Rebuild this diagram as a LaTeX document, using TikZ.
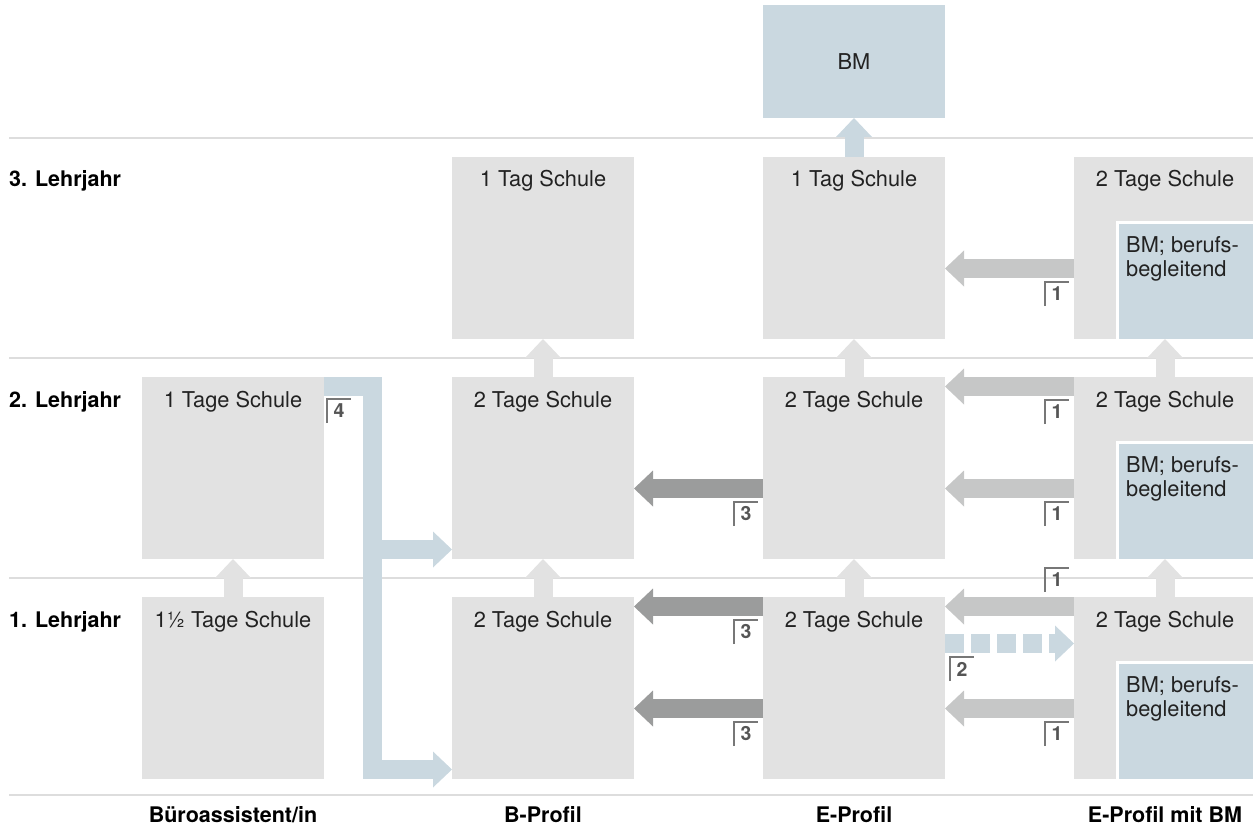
\documentclass[tikz,border=0pt]{standalone}
\usepackage{fontspec}
\setmainfont{TeX Gyre Heros}
\usetikzlibrary{arrows.meta,positioning}
\definecolor{feldgrau}{HTML}{E2E2E2}
\definecolor{bmblau}{HTML}{CAD8E0}
\definecolor{pfeildunkel}{HTML}{9B9C9C}
\definecolor{pfeilhell}{HTML}{C6C7C7}
\definecolor{liniengrau}{HTML}{DDDDDD}
\definecolor{nummergrau}{HTML}{555555}
\definecolor{schrift}{HTML}{222222}
\tikzset{
  feld/.style={fill=feldgrau,minimum width=182pt,minimum height=182pt,inner sep=0pt,outer sep=0pt,
    anchor=north west,label={[anchor=base,yshift=-30pt,inner sep=0pt,text=schrift,
    font=\fontsize{21.8}{25}\selectfont]north:#1}},
  begleitend/.style={fill=bmblau,draw=white,line width=3pt,minimum width=142.5pt,minimum height=118pt,
    inner sep=0pt,outer sep=0pt,anchor=south west,label={[anchor=north west,xshift=8.5pt,yshift=-14pt,
    inner sep=0pt,align=left,text=schrift,font=\fontsize{21.8}{23.5}\selectfont]north west:BM; berufs-\\begleitend}},
  pfeil/.style={line width=19pt,-{Triangle[width=36pt,length=19pt,line width=0pt]}},
  hoch/.style={pfeil,draw=feldgrau},
  zurueck/.style={pfeil,draw=pfeildunkel},
  wechsel/.style={pfeil,draw=pfeilhell},
  blau/.style={pfeil,draw=bmblau},
  nummer/.style={minimum width=24pt,minimum height=24pt,inner sep=0pt,outer sep=0pt,text=nummergrau,
    font=\fontsize{19.5}{19.5}\selectfont\bfseries,
    append after command={\pgfextra{\draw[nummergrau!80,line width=1.5pt]
      (\tikzlastnode.south west) |- (\tikzlastnode.north east);}}},
  jahr/.style={anchor=base west,inner sep=0pt,font=\fontsize{21.5}{24}\selectfont\bfseries},
  profil/.style={anchor=base,inner sep=0pt,font=\fontsize{21.5}{24}\selectfont\bfseries}
}
\begin{document}
\begin{tikzpicture}[x=1pt,y=-1pt]
\useasboundingbox (0,0) rectangle (1253,829);
\foreach \y in {138,358,578,795} \draw[liniengrau,line width=1.5pt] (9,\y) -- (1253,\y);
% Felder
\node[feld={1\textonehalf{} Tage Schule}] (a1) at (142,597) {};
\node[feld={1 Tage Schule}] (a2) at (142,377) {};
\node[feld={2 Tage Schule}] (b1) at (452,597) {};
\node[feld={2 Tage Schule}] (b2) at (452,377) {};
\node[feld={1 Tag Schule}] (b3) at (452,157) {};
\node[feld={2 Tage Schule}] (e1) at (763,597) {};
\node[feld={2 Tage Schule}] (e2) at (763,377) {};
\node[feld={1 Tag Schule}] (e3) at (763,157) {};
\node[feld={2 Tage Schule}] (m1) at (1074,597) {};
\node[feld={2 Tage Schule}] (m2) at (1074,377) {};
\node[feld={2 Tage Schule}] (m3) at (1074,157) {};
\node[begleitend] (bb1) at ([xshift=43.5pt,yshift=-1.5pt]m1.south west) {};
\node[begleitend] (bb2) at ([xshift=43.5pt,yshift=-1.5pt]m2.south west) {};
\node[begleitend] (bb3) at ([xshift=43.5pt,yshift=-1.5pt]m3.south west) {};
\node[fill=bmblau,minimum width=182pt,minimum height=113pt,inner sep=0pt,outer sep=0pt,anchor=north west,
  text=schrift,font=\fontsize{21.8}{25}\selectfont] (bm) at (763,5) {BM};
% Beschriftung
\node[jahr] (j3) at (9,187) {3. Lehrjahr};
\node[jahr] (j2) at (9,407) {2. Lehrjahr};
\node[jahr] (j1) at (9,627) {1. Lehrjahr};
\node[profil] at ([yshift=-43pt]a1.south) {Büroassistent/in};
\node[profil] at ([yshift=-43pt]b1.south) {B-Profil};
\node[profil] at ([yshift=-43pt]e1.south) {E-Profil};
\node[profil] at ([yshift=-43pt]m1.south) {E-Profil mit BM};
% Pfeile nach oben
\draw[hoch] (a1.north) -- (a2.south);
\draw[hoch] (b1.north) -- (b2.south);
\draw[hoch] (b2.north) -- (b3.south);
\draw[hoch] (e1.north) -- (e2.south);
\draw[hoch] (e2.north) -- (e3.south);
\draw[hoch] (m1.north) -- (m2.south);
\draw[hoch] (m2.north) -- (m3.south);
\draw[blau] (e3.north) -- (bm.south);
% Wechsel
\draw[zurueck] ([yshift=-9.5pt]e1.north west) -- ([yshift=-9.5pt]b1.north east);
\draw[zurueck] ([yshift=-111.5pt]e1.north west) -- ([yshift=-111.5pt]b1.north east);
\draw[zurueck] ([yshift=-111.5pt]e2.north west) -- ([yshift=-111.5pt]b2.north east);
\draw[wechsel] ([yshift=-9.5pt]m1.north west) -- ([yshift=-9.5pt]e1.north east);
\draw[wechsel] ([yshift=-111.5pt]m1.north west) -- ([yshift=-111.5pt]e1.north east);
\draw[wechsel] ([yshift=-9.5pt]m2.north west) -- ([yshift=-9.5pt]e2.north east);
\draw[wechsel] ([yshift=-111.5pt]m2.north west) -- ([yshift=-111.5pt]e2.north east);
\draw[wechsel] ([yshift=-111.5pt]m3.north west) -- ([yshift=-111.5pt]e3.north east);
\draw[blau,dash pattern=on 19pt off 7pt] ([yshift=-46.5pt]e1.north east) -- ([yshift=-46.5pt]m1.north west);
\draw[blau] ([yshift=-9.5pt]a2.north east) -| ([xshift=-79.5pt,yshift=9.5pt]b1.south west)
  -- ([yshift=9.5pt]b1.south west);
\draw[blau] ([xshift=-79.5pt,yshift=9.5pt]b2.south west) -- ([yshift=9.5pt]b2.south west);
% Nummern
\node[nummer,anchor=north east] (n1) at ([xshift=-5pt,yshift=-23pt]e1.north west) {3};
\node[nummer,anchor=north east] (n2) at ([xshift=-5pt,yshift=-125pt]e1.north west) {3};
\node[nummer,anchor=north east] (n3) at ([xshift=-5pt,yshift=-125pt]e2.north west) {3};
\node[nummer,anchor=south east] (n4) at ([xshift=-5pt,yshift=5pt]m1.north west) {1};
\node[nummer,anchor=north east] (n5) at ([xshift=-5pt,yshift=-125pt]m1.north west) {1};
\node[nummer,anchor=north east] (n6) at ([xshift=-5pt,yshift=-23pt]m2.north west) {1};
\node[nummer,anchor=north east] (n7) at ([xshift=-5pt,yshift=-125pt]m2.north west) {1};
\node[nummer,anchor=north east] (n8) at ([xshift=-5pt,yshift=-125pt]m3.north west) {1};
\node[nummer,anchor=north west] (n9) at ([xshift=5pt,yshift=-60pt]e1.north east) {2};
\node[nummer,anchor=north west] (n10) at ([xshift=3pt,yshift=-22pt]a2.north east) {4};
\end{tikzpicture}
\end{document}
